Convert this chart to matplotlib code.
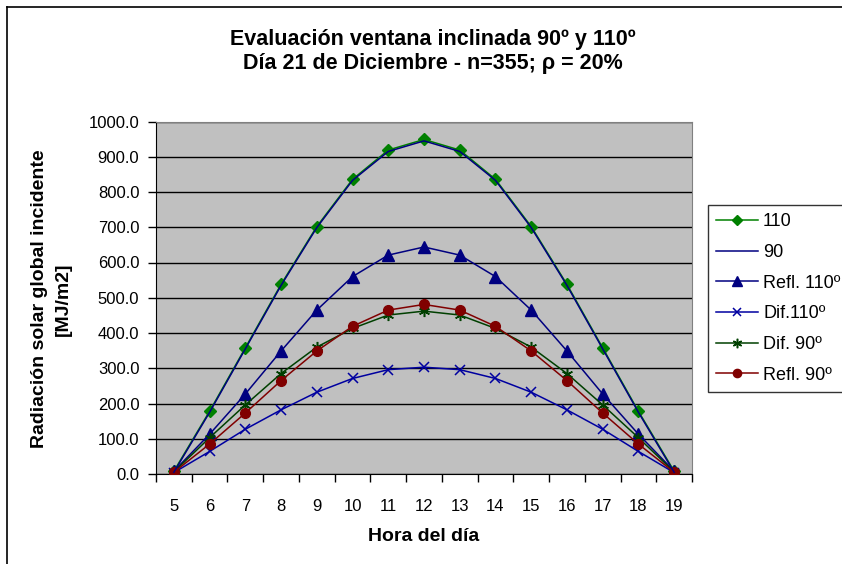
import matplotlib
matplotlib.use("Agg")
import matplotlib.pyplot as plt
from matplotlib.lines import Line2D
import numpy as np

plt.rcParams['font.family'] = ['Liberation Sans', 'DejaVu Sans']

# hours of the day
hours = [5, 6, 7, 8, 9, 10, 11, 12, 13, 14, 15, 16, 17, 18, 19]

# radiation series [MJ/m2]
rad_110 = [8, 178, 358, 538, 702, 836, 919, 949, 919, 836, 702, 538, 358, 178, 8]
rad_90 = [5, 175, 355, 535, 699, 833, 915, 945, 915, 833, 699, 535, 355, 175, 5]
refl_110 = [8, 113, 227, 349, 465, 560, 621, 644, 621, 560, 465, 349, 227, 113, 8]
dif_110 = [4, 64, 127, 182, 232, 271, 296, 303, 296, 271, 232, 182, 127, 64, 4]
dif_90 = [6, 103, 196, 285, 360, 413, 451, 462, 451, 413, 360, 285, 196, 103, 6]
refl_90 = [5, 85, 173, 265, 349, 419, 465, 481, 465, 419, 349, 265, 173, 85, 5]

W, H = 842, 564
fig = plt.figure(figsize=(W / 100, H / 100), dpi=100)

# plot area in pixel coords
left, right, top, bottom = 156, 692, 121.5, 474
ax = fig.add_axes([left / W, 1 - bottom / H, (right - left) / W, (bottom - top) / H])
ax.set_facecolor('#C0C0C0')

x = np.arange(len(hours))
lw = 1.1
ax.plot(x, rad_110, color='#008000', lw=lw, marker='D', ms=6, label='110', zorder=3)
ax.plot(x, rad_90, color='#000080', lw=lw, label='90', zorder=4)
ax.plot(x, refl_110, color='#000080', lw=lw, marker='^', ms=8, label='Refl. 110º', zorder=3)
ax.plot(x, dif_110, color='#0000A0', lw=lw, marker='x', ms=7.5, mew=1.1, label='Dif.110º', zorder=3)
ax.plot(x, dif_90, color='#004000', lw=lw, marker=(6, 2, 0), ms=8, mew=1.1, label='Dif. 90º', zorder=3)
ax.plot(x, refl_90, color='#800000', lw=lw, marker='o', ms=7, label='Refl. 90º', zorder=3)

ax.set_ylim(0, 1000)
ax.set_yticks(np.arange(0, 1001, 100))
ax.set_yticklabels([f"{v:.1f}" for v in np.arange(0, 1001, 100)])
ax.yaxis.grid(True, color='black', lw=1)
ax.set_axisbelow(True)

# category axis: ticks between categories, labels at centres
ax.set_xlim(-0.5, len(hours) - 0.5)
ax.set_xticks(np.arange(-0.5, len(hours), 1.0))
ax.set_xticklabels([])
ax.set_xticks(x, minor=True)
ax.set_xticklabels([str(h) for h in hours], minor=True)
ax.tick_params(axis='x', which='minor', length=0, pad=18, labelsize=12)
ax.tick_params(axis='x', which='major', length=6, width=1, color='black')
ax.tick_params(axis='y', length=6, width=1, labelsize=12, pad=6)

for side in ['top', 'right']:
    ax.spines[side].set_color('#808080')
ax.spines['left'].set_color('black')
ax.spines['bottom'].set_color('black')

ax.set_xlabel('Hora del día', fontsize=14, fontweight='bold', labelpad=10)

fig.text(40 / W, 1 - 299 / H, 'Radiación solar global incidente', rotation=90,
         ha='center', va='center', fontsize=14, fontweight='bold')
fig.text(63 / W, 1 - 299 / H, '[MJ/m2]', rotation=90,
         ha='center', va='center', fontsize=14, fontweight='bold')

fig.text(433 / W, 1 - 39 / H, 'Evaluación ventana inclinada 90º y 110º',
         ha='center', va='center', fontsize=15.5, fontweight='bold')
fig.text(433 / W, 1 - 64 / H, 'Día 21 de Diciembre - n=355; ρ = 20%',
         ha='center', va='center', fontsize=15.5, fontweight='bold')

leg = fig.legend(loc='upper left', bbox_to_anchor=(708 / W, 1 - 205 / H),
                 fontsize=13, frameon=True, fancybox=False, edgecolor='black',
                 handlelength=2.3, handletextpad=0.3, labelspacing=0.76,
                 borderpad=0.45, borderaxespad=0, markerscale=0.85)
leg.get_frame().set_linewidth(1.0)

# chart border (left and top edges)
fig.add_artist(Line2D([7 / W, 7 / W], [0, 1 - 7 / H], color='black', lw=1.2))
fig.add_artist(Line2D([7 / W, 1], [1 - 7 / H, 1 - 7 / H], color='black', lw=1.2))

fig.savefig('out.png', dpi=100)
